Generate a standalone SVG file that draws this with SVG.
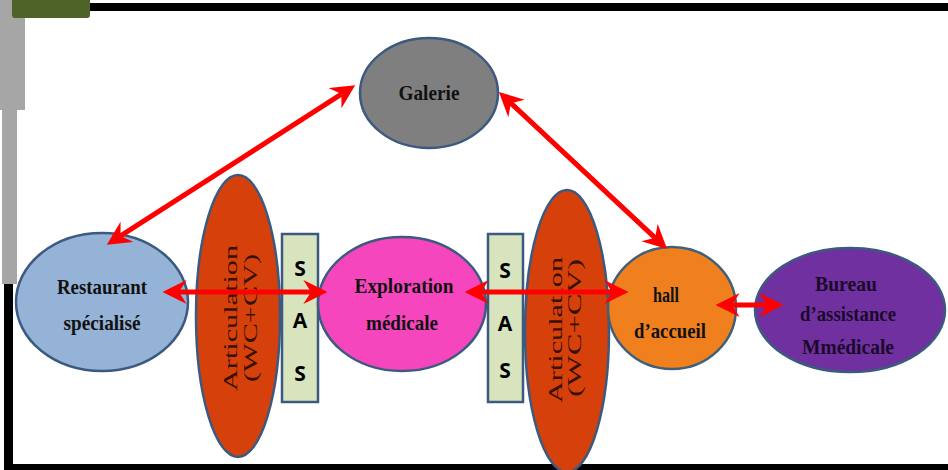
<svg xmlns="http://www.w3.org/2000/svg" width="948" height="470" viewBox="0 0 948 470">
<style>
.node{stroke:#3c5a80;stroke-width:2.5}
.lbl{font-family:"Liberation Serif","Times New Roman",serif;font-weight:bold;font-size:22px;fill:#111;text-anchor:middle}
.art{font-family:"Liberation Serif","Times New Roman",serif;font-size:19px;fill:#3a1000;text-anchor:middle}
.sas{font-family:"Open Sans","Liberation Sans",Arial,sans-serif;font-weight:bold;font-size:21px;fill:#000;text-anchor:middle}
.con{stroke:#ff0000;stroke-width:5;fill:none}
</style>
<defs>
<marker id="ah" markerUnits="userSpaceOnUse" markerWidth="24" markerHeight="24" refX="7" refY="11" orient="auto-start-reverse" viewBox="0 0 22 22">
<path d="M0,0 L22,11 L0,22 L7,11 Z" fill="#ff0000"/>
</marker>
</defs>
<rect width="948" height="470" fill="#ffffff"/>
<g id="frame">
<path d="M0,0 H25 V110 H17 V284 H2 V110 H0 Z" fill="#a6a6a6"/>
<rect x="90" y="3" width="858" height="8" fill="#000"/>
<rect x="4" y="284" width="9" height="186" fill="#000"/>
<rect x="4" y="464" width="944" height="6" fill="#000"/>
<rect x="12" y="-4" width="78" height="22" rx="3" fill="#4f6228"/>
</g>
<g id="articulation1">
<ellipse class="node" cx="238" cy="316" rx="42" ry="141" fill="#d6410b"/>
<text class="art" transform="translate(237,318) rotate(-90)" textLength="146" lengthAdjust="spacingAndGlyphs">Articulation</text>
<text class="art" transform="translate(257,318) rotate(-90)" textLength="128" lengthAdjust="spacingAndGlyphs">(WC+CV)</text>
</g>
<g id="sas1">
<rect class="node" x="282" y="234" width="36" height="168" fill="#d7e4bd"/>
<text class="sas" x="300" y="276">S</text>
<text class="sas" x="300" y="328">A</text>
<text class="sas" x="300" y="381">S</text>
</g>
<g id="articulation2">
<ellipse class="node" cx="567" cy="331" rx="42" ry="141" fill="#d6410b"/>
<text class="art" transform="translate(562,330) rotate(-90)" textLength="146" lengthAdjust="spacingAndGlyphs">Articulation</text>
<text class="art" transform="translate(581,328) rotate(-90)" textLength="138" lengthAdjust="spacingAndGlyphs">(WC+CV)</text>
</g>
<g id="sas2">
<rect class="node" x="488" y="234" width="35" height="168" fill="#d7e4bd"/>
<text class="sas" x="505" y="278">S</text>
<text class="sas" x="505" y="331">A</text>
<text class="sas" x="505" y="378">S</text>
</g>
<g id="galerie">
<ellipse class="node" cx="429" cy="93" rx="69" ry="55" fill="#7f7f7f"/>
<text class="lbl" x="429" y="100" textLength="61" lengthAdjust="spacingAndGlyphs">Galerie</text>
</g>
<g id="restaurant">
<ellipse class="node" cx="102" cy="302" rx="86" ry="69" fill="#95b3d7"/>
<text class="lbl" x="102" y="294" textLength="90" lengthAdjust="spacingAndGlyphs">Restaurant</text>
<text class="lbl" x="102" y="330" textLength="77" lengthAdjust="spacingAndGlyphs">spécialisé</text>
</g>
<g id="exploration">
<ellipse class="node" cx="402" cy="304" rx="84" ry="67" fill="#f546be"/>
<text class="lbl" x="404" y="293" textLength="99" lengthAdjust="spacingAndGlyphs">Exploration</text>
<text class="lbl" x="402" y="330" textLength="72" lengthAdjust="spacingAndGlyphs">médicale</text>
</g>
<g id="hall">
<ellipse class="node" cx="672" cy="308" rx="64" ry="61" fill="#f0801e" style="stroke:#3f6078"/>
<text class="lbl" x="666" y="302" textLength="26" lengthAdjust="spacingAndGlyphs">hall</text>
<text class="lbl" x="670" y="338" textLength="72" lengthAdjust="spacingAndGlyphs">d’accueil</text>
</g>
<g id="bureau">
<ellipse class="node" cx="850" cy="310" rx="95" ry="62" fill="#7030a0"/>
<text class="lbl" x="846" y="291" textLength="62" lengthAdjust="spacingAndGlyphs" style="fill:#1a0a2a">Bureau</text>
<text class="lbl" x="848" y="321" textLength="96" lengthAdjust="spacingAndGlyphs" style="fill:#1a0a2a">d’assistance</text>
<text class="lbl" x="848" y="354" textLength="92" lengthAdjust="spacingAndGlyphs" style="fill:#1a0a2a">Mmédicale</text>
</g>
<g id="connectors">
<line class="con" x1="120.6" y1="235.9" x2="341.4" y2="94.1" marker-start="url(#ah)" marker-end="url(#ah)"/>
<line class="con" x1="510.9" y1="103.2" x2="655.1" y2="237.8" marker-start="url(#ah)" marker-end="url(#ah)"/>
<line class="con" x1="179" y1="292" x2="311" y2="292" marker-start="url(#ah)" marker-end="url(#ah)"/>
<line class="con" x1="481" y1="292" x2="612" y2="292" marker-start="url(#ah)" marker-end="url(#ah)"/>
<line class="con" x1="732" y1="305" x2="767" y2="305" marker-start="url(#ah)" marker-end="url(#ah)"/>
</g>
</svg>
